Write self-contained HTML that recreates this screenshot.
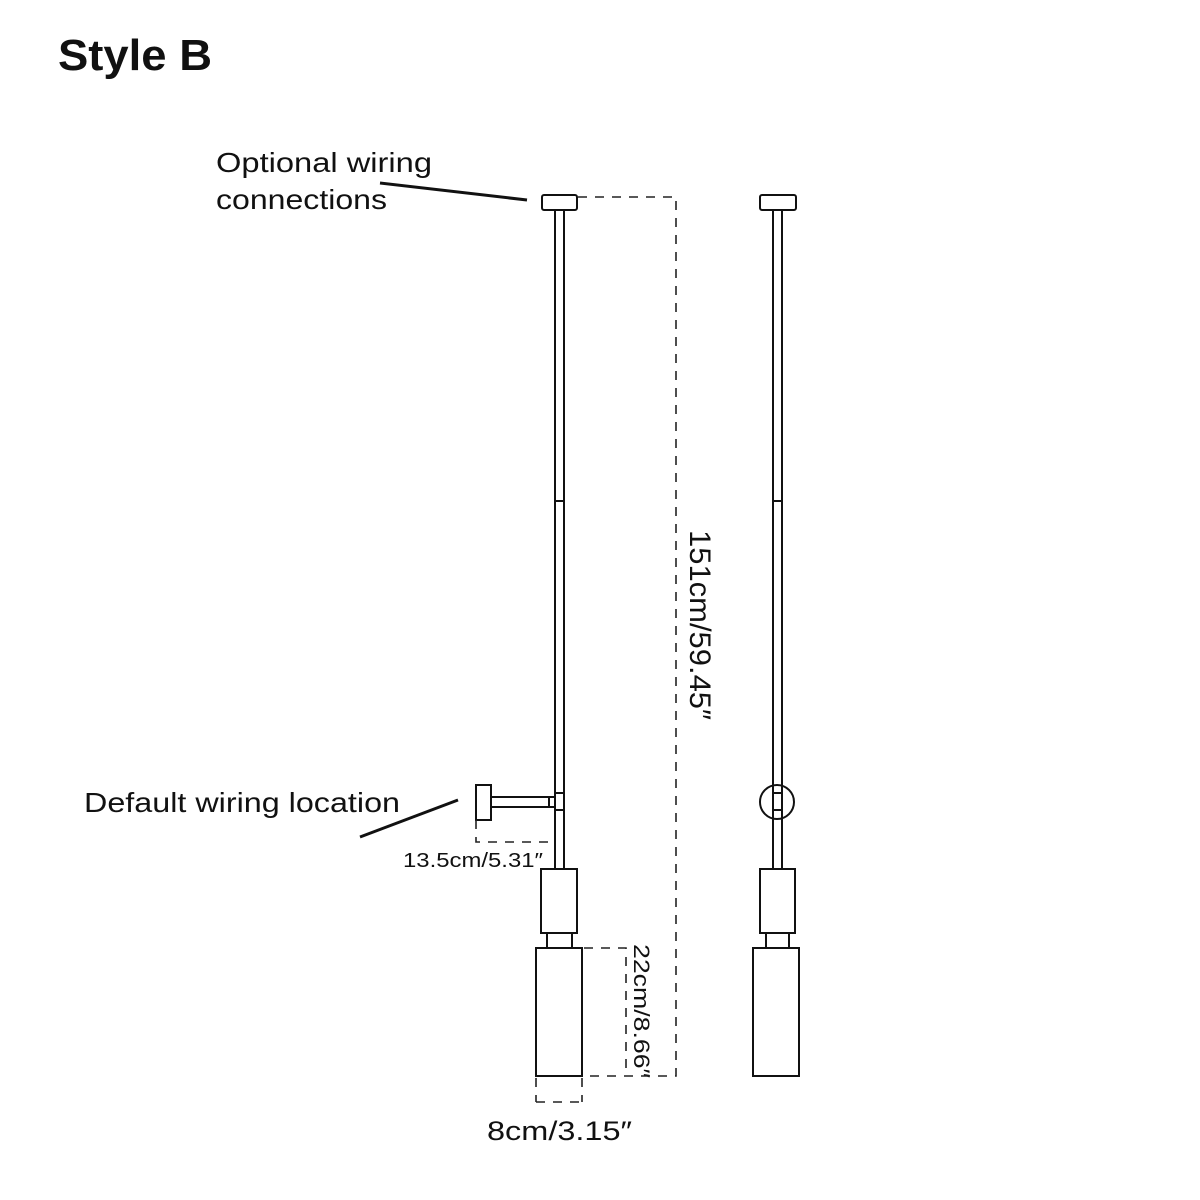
<!DOCTYPE html>
<html><head><meta charset="utf-8"><style>
html,body{margin:0;padding:0;background:#fff;}
svg{display:block;}
text{font-family:"Liberation Sans","DejaVu Sans",sans-serif;fill:#111;}
</style></head><body>
<svg width="1200" height="1200" viewBox="0 0 1200 1200" xmlns="http://www.w3.org/2000/svg">
<rect width="1200" height="1200" fill="#fff"/>
<text x="58" y="70" font-size="44" font-weight="bold" textLength="154" lengthAdjust="spacingAndGlyphs">Style B</text>
<text x="216" y="172" font-size="28" textLength="216" lengthAdjust="spacingAndGlyphs">Optional wiring</text>
<text x="216" y="209" font-size="28" textLength="171" lengthAdjust="spacingAndGlyphs">connections</text>
<text x="84" y="812" font-size="28" textLength="316" lengthAdjust="spacingAndGlyphs">Default wiring location</text>
<text x="403" y="867" font-size="20" textLength="140" lengthAdjust="spacingAndGlyphs">13.5cm/5.31″</text>
<text x="487" y="1140" font-size="27" textLength="145" lengthAdjust="spacingAndGlyphs">8cm/3.15″</text>
<text transform="translate(690,530) rotate(90)" font-size="30" textLength="190" lengthAdjust="spacingAndGlyphs">151cm/59.45″</text>
<text transform="translate(634,944) rotate(90)" font-size="22" textLength="134" lengthAdjust="spacingAndGlyphs">22cm/8.66″</text>
<g stroke="#111" stroke-width="3" fill="none">
<line x1="380" y1="183" x2="527" y2="200"/>
<line x1="360" y1="837" x2="458" y2="800"/>
</g>
<g stroke="#111" stroke-width="2" fill="#fff">
<rect x="542" y="195" width="35" height="15" rx="2"/>
<line x1="555" y1="210" x2="555" y2="869"/>
<line x1="564" y1="210" x2="564" y2="869"/>
<line x1="555" y1="501" x2="564" y2="501"/>
<rect x="555" y="793" width="9" height="17"/>
<rect x="491" y="797" width="58" height="10"/>
<rect x="549" y="797" width="6" height="10"/>
<rect x="476" y="785" width="15" height="35"/>
<rect x="541" y="869" width="36" height="64"/>
<rect x="547" y="933" width="25" height="15"/>
<rect x="536" y="948" width="46" height="128"/>
<rect x="760" y="195" width="36" height="15" rx="2"/>
<circle cx="777" cy="802" r="17"/>
<line x1="773" y1="210" x2="773" y2="869"/>
<line x1="782" y1="210" x2="782" y2="869"/>
<line x1="773" y1="501" x2="782" y2="501"/>
<rect x="773" y="793" width="9" height="17"/>
<rect x="760" y="869" width="35" height="64"/>
<rect x="766" y="933" width="23" height="15"/>
<rect x="753" y="948" width="46" height="128"/>
</g>
<g stroke="#222" stroke-width="1.6" fill="none" stroke-dasharray="9,8">
<polyline points="578,197 676,197 676,1076 582,1076"/>
<polyline points="584,948 626,948 626,1076"/>
<polyline points="476,820 476,842 555,842"/>
<line x1="536" y1="1078" x2="536" y2="1102"/>
<line x1="582" y1="1078" x2="582" y2="1102"/>
<line x1="536" y1="1102" x2="582" y2="1102"/>
</g>
</svg>
</body></html>
